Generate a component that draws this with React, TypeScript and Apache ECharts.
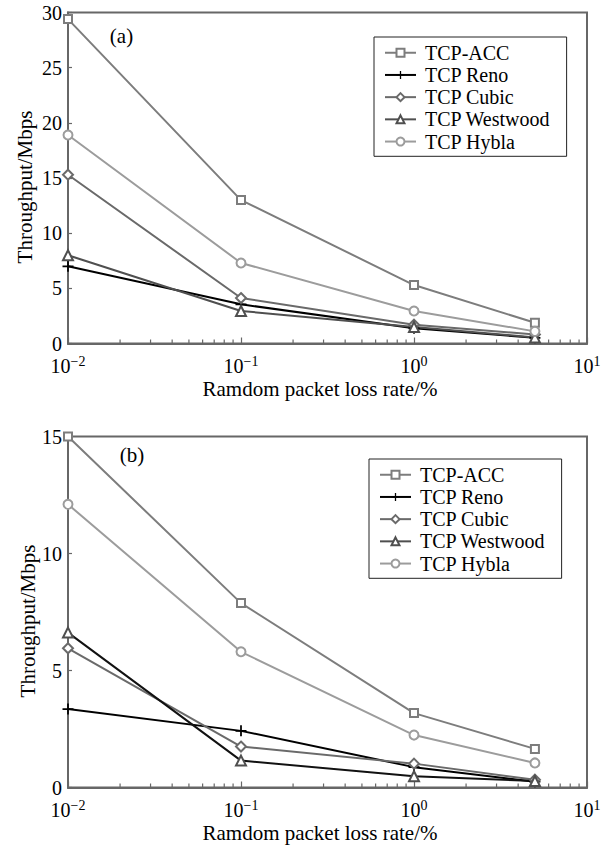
import React, { useEffect, useRef } from "react";
import * as echarts from "echarts";

// Random packet loss rate (%) at which throughput was measured
const lossRates = [0.01, 0.1, 1, 5];

// (a) throughput, Mbps
const accA = [29.4, 13.0, 5.3, 1.88];
const renoA = [7.0, 3.55, 1.38, 0.52];
const cubicA = [15.3, 4.12, 1.7, 0.82];
const westwoodA = [8.0, 2.95, 1.5, 0.55];
const hyblaA = [18.9, 7.3, 2.95, 1.1];

// (b) throughput, Mbps
const accB = [15.0, 7.88, 3.18, 1.65];
const renoB = [3.35, 2.42, 0.87, 0.25];
const cubicB = [5.95, 1.75, 1.02, 0.33];
const westwoodB = [6.62, 1.15, 0.48, 0.28];
const hyblaB = [12.1, 5.8, 2.24, 1.05];

const seriesNames = ["TCP-ACC", "TCP Reno", "TCP Cubic", "TCP Westwood", "TCP Hybla"];

// Exponents shown as superscripts on the decade ticks (10^-2 … 10^1)
const xTickExponents = ["−2", "−1", "0", "1"];

// Unlabelled minor ticks on the logarithmic axis (2…9 of each decade)
const minorTickValues = [
  0.02, 0.03, 0.04, 0.05, 0.06, 0.07, 0.08, 0.09,
  0.2, 0.3, 0.4, 0.5, 0.6, 0.7, 0.8, 0.9,
  2, 3, 4, 5, 6, 7, 8, 9,
];

const SERIF = "'Liberation Serif', 'Times New Roman', serif";
const AXIS = "#676767";
const PLUS = "path://M4.2,0H5.8V4.2H10V5.8H5.8V10H4.2V5.8H0V4.2H4.2Z";

type Style = { color: string; line: string; symbol: string; size: number; filled?: boolean };

const stylesA: Style[] = [
  { color: "#7d7d7d", line: "#7d7d7d", symbol: "rect", size: 8 },
  { color: "#000000", line: "#000000", symbol: PLUS, size: 11, filled: true },
  { color: "#6a6a6a", line: "#6a6a6a", symbol: "diamond", size: 10 },
  { color: "#4f4f4f", line: "#4f4f4f", symbol: "triangle", size: 10 },
  { color: "#9c9c9c", line: "#9c9c9c", symbol: "circle", size: 9 },
];
const stylesB: Style[] = [
  stylesA[0],
  stylesA[1],
  stylesA[2],
  { color: "#4f4f4f", line: "#111111", symbol: "triangle", size: 10 },
  stylesA[4],
];

function lineSeries(name: string, values: number[], st: Style, idx: number) {
  return {
    type: "line",
    name,
    xAxisIndex: idx,
    yAxisIndex: idx,
    data: lossRates.map((x, i) => [x, values[i]]),
    symbol: st.symbol,
    symbolSize: st.size,
    showSymbol: true,
    lineStyle: { color: st.line, width: 2 },
    itemStyle: st.filled
      ? { color: st.color, borderWidth: 0 }
      : { color: "#ffffff", borderColor: st.color, borderWidth: 2 },
    emphasis: { disabled: true },
  };
}

function minorTicks(idx: number) {
  return {
    type: "custom",
    xAxisIndex: idx,
    yAxisIndex: idx,
    silent: true,
    data: minorTickValues.map((v) => [v, 0]),
    renderItem: (_p: any, api: any) => {
      const pt = api.coord([api.value(0), api.value(1)]);
      return {
        type: "line",
        shape: { x1: pt[0], y1: pt[1], x2: pt[0], y2: pt[1] - 4 },
        style: { stroke: AXIS, lineWidth: 1.2 },
      };
    },
    z: 3,
  };
}

function xAxis(idx: number) {
  return {
    type: "log",
    logBase: 10,
    gridIndex: idx,
    min: 0.01,
    max: 10,
    axisLine: { show: true, lineStyle: { color: AXIS, width: 2 } },
    axisTick: { show: true, inside: true, length: 6, lineStyle: { color: AXIS, width: 1.2 } },
    splitLine: { show: false },
    axisLabel: {
      show: true,
      showMinLabel: true,
      showMaxLabel: true,
      margin: 11,
      formatter: (_v: number, i: number) => `{b|10}{s|${xTickExponents[i]}}`,
      rich: {
        b: { fontSize: 20, fontFamily: SERIF, color: "#000", lineHeight: 22 },
        s: { fontSize: 14, fontFamily: SERIF, color: "#000", verticalAlign: "top", lineHeight: 14 },
      },
    },
  };
}

function yAxis(idx: number, max: number) {
  return {
    type: "value",
    gridIndex: idx,
    min: 0,
    max,
    interval: 5,
    axisLine: { show: true, lineStyle: { color: AXIS, width: 2 } },
    axisTick: { show: true, inside: true, length: 4, lineStyle: { color: AXIS, width: 1.2 } },
    splitLine: { show: false },
    axisLabel: { fontSize: 20, fontFamily: SERIF, color: "#000", margin: 6 },
  };
}

function legend(left: number, top: number) {
  return {
    data: seriesNames,
    orient: "vertical",
    left,
    top,
    itemWidth: 31,
    itemHeight: 10,
    itemGap: 0.7,
    padding: [5, 16, 4, 10],
    borderColor: "#222",
    borderWidth: 1,
    backgroundColor: "#ffffff",
    selectedMode: false,
    textStyle: { fontSize: 20, fontFamily: SERIF, color: "#000", lineHeight: 21.5, padding: [0, 0, 0, 4] },
  };
}

function text(x: number, y: number, s: string, rotate = 0) {
  return {
    type: "text",
    x,
    y,
    rotation: rotate,
    style: {
      text: s,
      font: `21px ${SERIF}`,
      fill: "#000",
      textAlign: "center",
      textVerticalAlign: "middle",
    },
    z: 10,
  };
}

export default function App() {
  const ref = useRef<HTMLDivElement>(null);

  useEffect(() => {
    if (!ref.current) return;
    const chart = echarts.init(ref.current, undefined, { renderer: "svg" });
    const valsA = [accA, renoA, cubicA, westwoodA, hyblaA];
    const valsB = [accB, renoB, cubicB, westwoodB, hyblaB];

    chart.setOption({
      animation: false,
      backgroundColor: "#ffffff",
      grid: [
        { left: 68, right: 22, top: 12.5, height: 331, show: true, borderColor: AXIS, borderWidth: 2, backgroundColor: "transparent" },
        { left: 68, right: 22, top: 436.5, height: 351, show: true, borderColor: AXIS, borderWidth: 2, backgroundColor: "transparent" },
      ],
      xAxis: [xAxis(0), xAxis(1)],
      yAxis: [yAxis(0, 30), yAxis(1, 15)],
      legend: [legend(374, 37), legend(369, 459)],
      series: [
        ...seriesNames.map((n, i) => lineSeries(n, valsA[i], stylesA[i], 0)),
        ...seriesNames.map((n, i) => lineSeries(n, valsB[i], stylesB[i], 1)),
        minorTicks(0),
        minorTicks(1),
      ],
      graphic: [
        text(121.5, 36, "(a)"),
        text(132, 455, "(b)"),
        text(25, 187, "Throughput/Mbps", Math.PI / 2),
        text(28, 621, "Throughput/Mbps", Math.PI / 2),
        text(320, 389, "Ramdom packet loss rate/%"),
        text(320, 833, "Ramdom packet loss rate/%"),
      ],
    });

    return () => chart.dispose();
  }, []);

  return (
    <div
      ref={ref}
      style={{ position: "absolute", left: 0, top: 0, width: 609, height: 846 }}
    />
  );
}
